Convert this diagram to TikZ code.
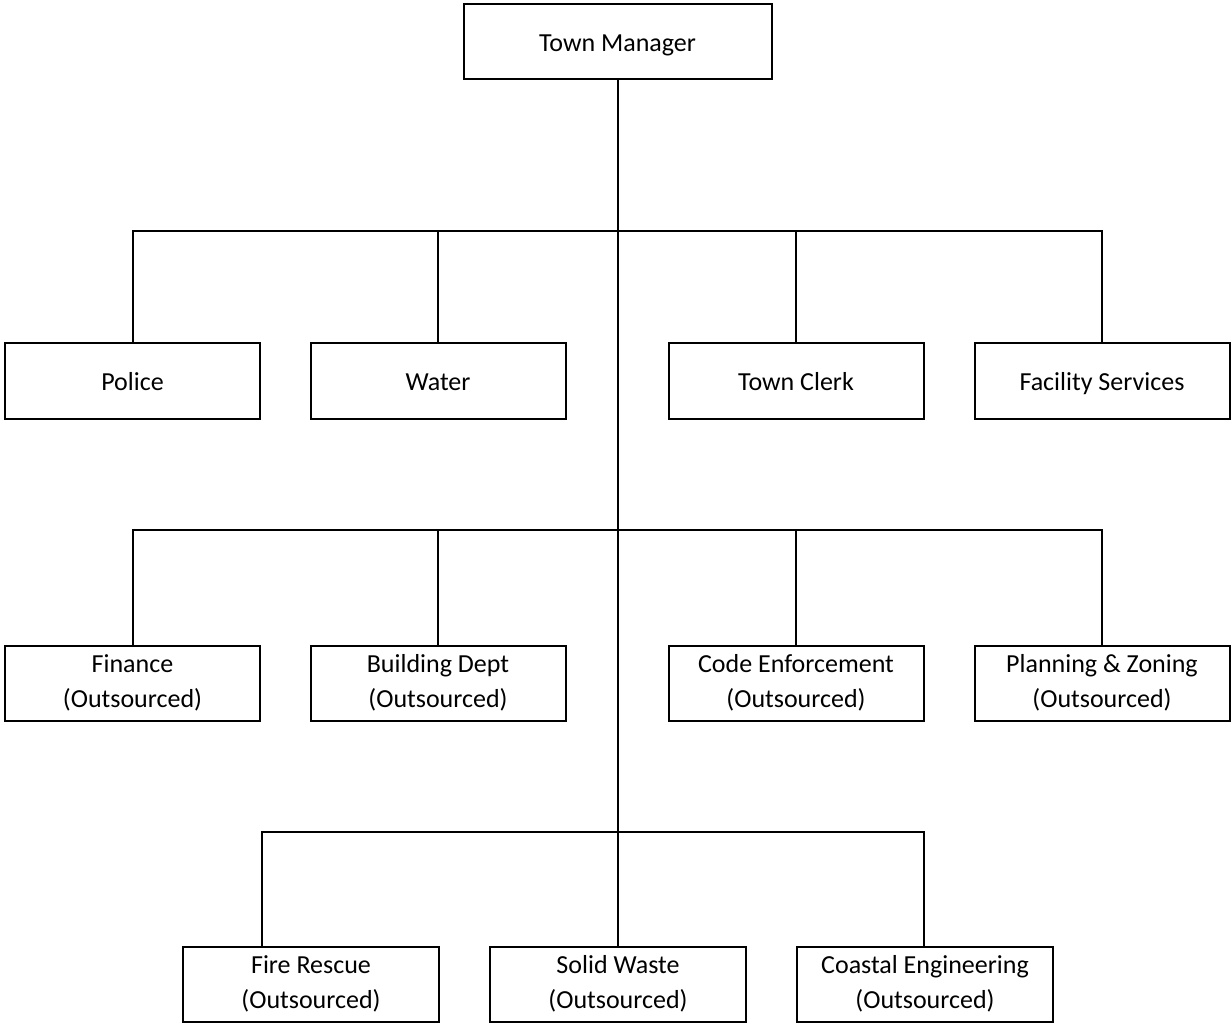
\documentclass[tikz,border=0pt]{standalone}
\usepackage{fontspec}
\setmainfont{Carlito}
\tikzset{
  unit/.style={draw, line width=2, rectangle, minimum width=255, minimum height=75,
    align=center, inner sep=0, font=\fontsize{26}{35}\selectfont},
  oneline/.style={text height=23, text depth=3},
  link/.style={line width=2}
}
\begin{document}
\begin{tikzpicture}[x=1pt,y=-1pt]
\useasboundingbox (0,0) rectangle (1232,1024);
% top
\node[unit, oneline, minimum width=308] (tm) at (617.5,41.5) {Town Manager};
% first row
\node[unit, oneline] (police) at (132.5,381) {Police};
\node[unit, oneline] (water) at (438,381) {Water};
\node[unit, oneline] (clerk) at (796,381) {Town Clerk};
\node[unit, oneline] (facility) at (1102,381) {Facility Services};
% second row
\node[unit] (finance) at (132.5,683) {Finance\\(Outsourced)};
\node[unit] (building) at (438,683) {Building Dept\\(Outsourced)};
\node[unit] (code) at (796,683) {Code Enforcement\\(Outsourced)};
\node[unit] (planning) at (1102,683) {Planning \& Zoning\\(Outsourced)};
% third row
\node[unit, minimum width=256] (fire) at (311,984) {Fire Rescue\\(Outsourced)};
\node[unit, minimum width=256] (waste) at (618,984) {Solid Waste\\(Outsourced)};
\node[unit, minimum width=256] (coastal) at (925,984) {Coastal Engineering\\(Outsourced)};
% bus lines
\coordinate (busa) at (618,231);
\coordinate (busb) at (618,530);
\coordinate (busc) at (618,832);
\draw[link] (tm.south -| busa) -- (busc);
\foreach \n in {police,water,clerk,facility}
  \draw[link] (\n.north) |- (busa);
\foreach \n in {finance,building,code,planning}
  \draw[link] (\n.north) |- (busb);
\draw[link] ([xshift=-49]fire.north) |- (busc);
\draw[link] (waste.north) -- (busc);
\draw[link] ([xshift=-1]coastal.north) |- (busc);
\end{tikzpicture}
\end{document}
